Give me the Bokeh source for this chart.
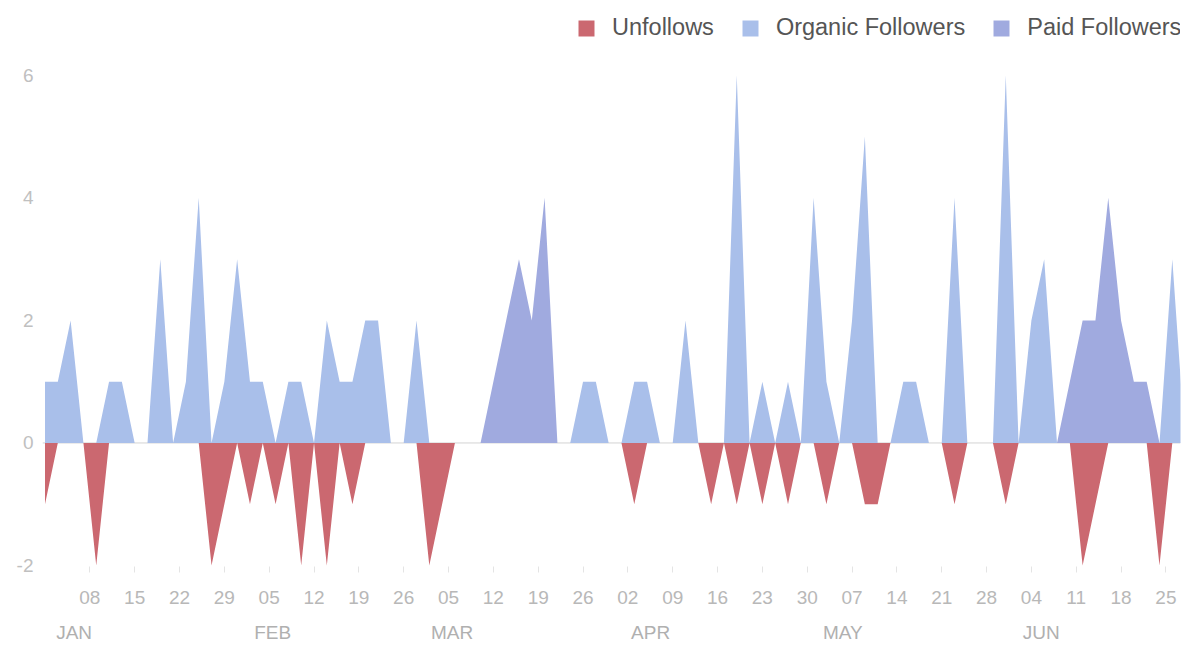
import pandas as pd
from bokeh.plotting import figure
from bokeh.models import (Range1d, FixedTicker, LinearAxis, Span, Legend,
                          LegendItem, ColumnDataSource)
from bokeh.embed import file_html
from bokeh.resources import INLINE

# ---------------- data ----------------
start_date = "2017-01-01"
step = "2D"

organic = [1, 1, 2, 0, 0, 1, 1, 0, 0, 3,
           0, 1, 4, 0, 1, 3, 1, 1, 0, 1,
           1, 0, 2, 1, 1, 2, 2, 0, 0, 2,
           0, 0, 0, 0, 0, 0, 0, 0, 0, 0,
           0, 0, 1, 1, 0, 0, 1, 1, 0, 0,
           2, 0, 0, 0, 6, 0, 1, 0, 1, 0,
           4, 1, 0, 2, 5, 0, 0, 1, 1, 0,
           0, 4, 0, 0, 0, 6, 0, 2, 3, 0,
           0, 0, 0, 0, 0, 0, 0, 0, 3, 0]

paid = [0, 0, 0, 0, 0, 0, 0, 0, 0, 0,
        0, 0, 0, 0, 0, 0, 0, 0, 0, 0,
        0, 0, 0, 0, 0, 0, 0, 0, 0, 0,
        0, 0, 0, 0, 0, 1, 2, 3, 2, 4,
        0, 0, 0, 0, 0, 0, 0, 0, 0, 0,
        0, 0, 0, 0, 0, 0, 0, 0, 0, 0,
        0, 0, 0, 0, 0, 0, 0, 0, 0, 0,
        0, 0, 0, 0, 0, 0, 0, 0, 0, 0,
        1, 2, 2, 4, 2, 1, 1, 0, 0, 0]

unfollows = [-1, 0, 0, 0, -2, 0, 0, 0, 0, 0,
             0, 0, 0, -2, -1, 0, -1, 0, -1, 0,
             -2, 0, -2, 0, -1, 0, 0, 0, 0, 0,
             -2, -1, 0, 0, 0, 0, 0, 0, 0, 0,
             0, 0, 0, 0, 0, 0, -1, 0, 0, 0,
             0, 0, -1, 0, -1, 0, -1, 0, -1, 0,
             0, -1, 0, 0, -1, -1, 0, 0, 0, 0,
             0, -1, 0, 0, 0, -1, 0, 0, 0, 0,
             0, -2, -1, 0, 0, 0, 0, -2, 0, 0]

tick_dates = ["2017-01-08", "2017-01-15", "2017-01-22", "2017-01-29",
              "2017-02-05", "2017-02-12", "2017-02-19", "2017-02-26",
              "2017-03-05", "2017-03-12", "2017-03-19", "2017-03-26",
              "2017-04-02", "2017-04-09", "2017-04-16", "2017-04-23", "2017-04-30",
              "2017-05-07", "2017-05-14", "2017-05-21", "2017-05-28",
              "2017-06-04", "2017-06-11", "2017-06-18", "2017-06-25"]
tick_labels = ["08", "15", "22", "29", "05", "12", "19", "26",
               "05", "12", "19", "26", "02", "09", "16", "23", "30",
               "07", "14", "21", "28", "04", "11", "18", "25"]

month_dates = ["2017-01-01", "2017-02-01", "2017-03-01",
               "2017-04-01", "2017-05-01", "2017-06-01"]
month_labels = ["JAN", "FEB", "MAR", "APR", "MAY", "JUN"]

y_ticks = [-2, 0, 2, 4, 6]
y_labels = ["-2", "0", "2", "4", "6"]

# ---------------- styling ----------------
RED = "#cb6870"
ORGANIC = "#a9bfea"
PAID = "#a0aadf"
DAY_MS = 86400000.0
FONT = "Liberation Sans"


def to_ms(values):
    return [float(v) for v in (pd.to_datetime(values).astype("int64") // 10**6)]


dates = pd.date_range(start_date, periods=len(organic), freq=step)
x_ms = to_ms(dates)
t0 = x_ms[0]

src = ColumnDataSource(dict(x=x_ms, organic=organic, paid=paid, unf=unfollows))

p = figure(width=1187, height=645, output_backend="svg", toolbar_location=None,
           x_range=Range1d(t0 - 0.39 * DAY_MS, t0 + 177.28 * DAY_MS),
           y_range=Range1d(-2.016, 7.09),
           min_border_left=42, min_border_right=7, min_border_top=8,
           min_border_bottom=77)
p.outline_line_color = None
p.grid.visible = False
p.background_fill_color = "white"

zero = Span(location=0, dimension="width", line_color="#d4d4d4", line_width=1,
            level="underlay")
p.add_layout(zero)

r_unf = p.varea(x="x", y1=0, y2="unf", source=src, fill_color=RED)
rs = p.varea_stack(["organic", "paid"], x="x", source=src,
                   fill_color=[ORGANIC, PAID])

# x axis (weekly days)
xa = p.xaxis[0]
tick_ms = to_ms(tick_dates)
xa.ticker = FixedTicker(ticks=tick_ms)
xa.major_label_overrides = {t: l for t, l in zip(tick_ms, tick_labels)}
xa.axis_line_color = None
xa.major_tick_line_color = "#e4e4e4"
xa.major_tick_out = 6
xa.major_tick_in = 0
xa.minor_tick_line_color = None
xa.major_label_standoff = 18
xa.major_label_text_font = FONT
xa.major_label_text_font_size = "19px"
xa.major_label_text_color = "#b8b8b8"

# month axis (labels centred a few days into each month)
month_ms = [m + 4.55 * DAY_MS for m in to_ms(month_dates)]
ma = LinearAxis(ticker=FixedTicker(ticks=month_ms),
                major_label_overrides={t: l for t, l in zip(month_ms, month_labels)})
ma.axis_line_color = None
ma.major_tick_line_color = None
ma.minor_tick_line_color = None
ma.major_label_standoff = 9
ma.major_label_text_font = FONT
ma.major_label_text_font_size = "19px"
ma.major_label_text_color = "#b0b0b0"
p.add_layout(ma, "below")

# y axis
ya = p.yaxis[0]
ya.ticker = FixedTicker(ticks=y_ticks)
ya.major_label_overrides = {t: l for t, l in zip(y_ticks, y_labels)}
ya.axis_line_color = None
ya.major_tick_line_color = None
ya.minor_tick_line_color = None
ya.major_label_standoff = 3
ya.major_label_text_font = FONT
ya.major_label_text_font_size = "19px"
ya.major_label_text_color = "#c0c0c0"

legend = Legend(items=[LegendItem(label="Unfollows", renderers=[r_unf]),
                       LegendItem(label="Organic Followers", renderers=[rs[0]]),
                       LegendItem(label="Paid Followers", renderers=[rs[1]])],
                location=(534, 525), orientation="horizontal",
                glyph_width=20, glyph_height=20, label_standoff=16, spacing=26,
                padding=0, margin=0, border_line_color=None,
                background_fill_alpha=0,
                label_text_font=FONT, label_text_font_size="23.5px",
                label_text_color="#555555")
p.add_layout(legend)

open("out.html", "w").write(file_html(p, INLINE))
